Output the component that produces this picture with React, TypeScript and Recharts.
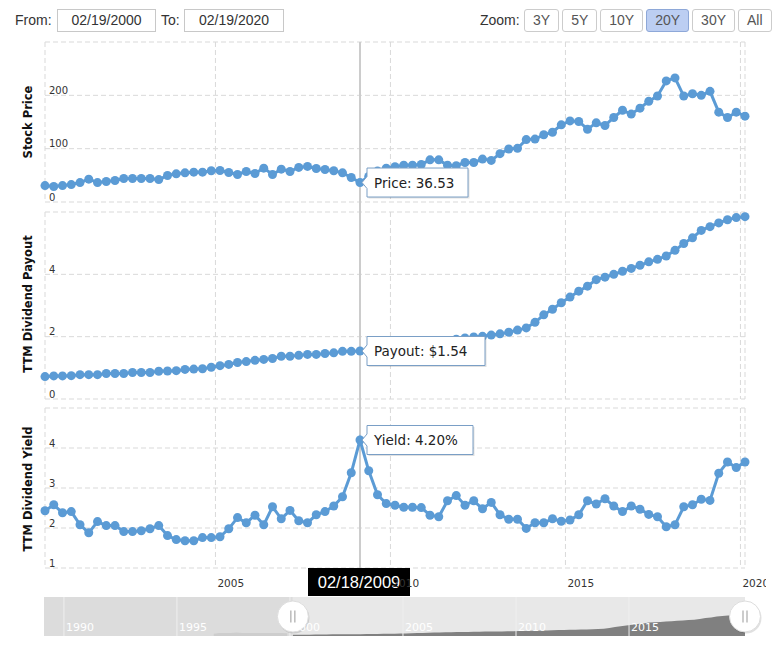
import React from "react";
import {
  LineChart,
  Line,
  XAxis,
  YAxis,
  CartesianGrid,
  ReferenceLine,
  ReferenceDot,
  ReferenceArea,
  AreaChart,
  Area,
} from "recharts";

// quarterly points, first one is Feb 2000
const firstQuarter = 2000.13;

const price = [
  30.8, 29, 30.8, 32.7, 36.4, 42.8, 36.4, 38.4, 40.3, 44, 44, 44, 44, 42, 49.7,
  52.8, 54.7, 56, 56, 58.5, 59, 55.3, 51.6, 57.2, 53.4, 63.5, 51.6, 61.6, 57.2,
  64.8, 66.7, 62.9, 61, 58.5, 54.7, 45.9, 36.53, 48, 58, 63.5, 66, 69, 69, 70.4,
  79, 79, 69, 68, 74, 74, 80.5, 78, 90.6, 99.4, 100.6, 117, 118, 126, 130.8,
  144.7, 152, 151, 136.5, 148.4, 143.4, 158.5, 172, 164.8, 176, 188.7, 198.7,
  227, 232.7, 198.7, 203, 200, 207.5, 168.5, 158.5, 168.5, 161,
];

const payout = [
  0.72, 0.74, 0.74, 0.75, 0.78, 0.78, 0.78, 0.82, 0.82, 0.82, 0.85, 0.85, 0.85,
  0.89, 0.9, 0.91, 0.95, 0.96, 0.97, 1.02, 1.07, 1.11, 1.17, 1.2, 1.24, 1.27,
  1.3, 1.37, 1.37, 1.4, 1.43, 1.43, 1.46, 1.48, 1.53, 1.53, 1.54, 1.58, 1.62,
  1.65, 1.68, 1.71, 1.74, 1.77, 1.8, 1.84, 1.88, 1.92, 1.96, 1.99, 2.01, 2.05,
  2.09, 2.14, 2.21, 2.28, 2.46, 2.7, 2.88, 3.09, 3.27, 3.46, 3.62, 3.83, 3.91,
  4.0, 4.1, 4.19, 4.29, 4.4, 4.48, 4.59, 4.77, 4.99, 5.17, 5.41, 5.53, 5.65,
  5.75, 5.82, 5.85,
];

const yieldPct = [
  2.43, 2.58, 2.38, 2.41, 2.08, 1.88, 2.16, 2.06, 2.06, 1.91, 1.91, 1.93, 1.98,
  2.06, 1.81, 1.71, 1.68, 1.68, 1.76, 1.76, 1.78, 1.98, 2.26, 2.13, 2.32, 2.08,
  2.53, 2.23, 2.44, 2.18, 2.13, 2.33, 2.41, 2.55, 2.78, 3.38, 4.2, 3.43, 2.83,
  2.61, 2.57, 2.52, 2.52, 2.51, 2.32, 2.28, 2.68, 2.81, 2.57, 2.68, 2.48, 2.64,
  2.33, 2.22, 2.22, 1.99, 2.13, 2.13, 2.23, 2.17, 2.2, 2.33, 2.68, 2.6, 2.73,
  2.55, 2.41, 2.55, 2.47, 2.34, 2.28, 2.03, 2.08, 2.53, 2.58, 2.72, 2.69, 3.37,
  3.65, 3.51, 3.65,
];

// navigator history before the selected range (quarterly, ends just before Feb 2000)
const navEarly = [1.0, 1.15, 1.2, 1.2, 1.3, 1.2, 1.2, 1.15, 1.15, 1.15, 1.15, 1.15, 1.15, 1.1];

const yearTicks = [2005, 2010, 2015, 2020];
const navYearTicks = [1990, 1995, 2000, 2005, 2010, 2015];
const priceTicks = [0, 100, 200, 300];
const payoutTicks = [0, 2, 4, 6];
const yieldTicks = [1, 2, 3, 4, 5];
const zoomButtons = ["3Y", "5Y", "10Y", "20Y", "30Y", "All"];
const activeZoom = "20Y";

const hoverIndex = 36;
const hoverDate = "02/18/2009";
const fromDate = "02/19/2000";
const toDate = "02/19/2020";

const rows = price.map((p, i) => ({
  t: firstQuarter + i / 4,
  price: p,
  payout: payout[i],
  yld: yieldPct[i],
}));

const navRows = [
  ...navEarly.map((v, k) => ({ t: firstQuarter - (navEarly.length - k) / 4, early: v })),
  ...payout.map((v, i) => ({ t: firstQuarter + i / 4, main: v })),
];

const xDomain = [firstQuarter, firstQuarter + 20];
const navDomain = [1989.12, firstQuarter + 20];
const hoverT = rows[hoverIndex].t;

const LINE = "#5b9bd5";
const GRID = "#d9d9d9";
const FONT = "'DejaVu Sans', Verdana, sans-serif";
const UI_FONT = "'Liberation Sans', Arial, sans-serif";

// eslint-disable-next-line @typescript-eslint/no-explicit-any
const yTick = (top: number) => (props: any) => {
  const { x, y, payload } = props;
  if (payload.value === top) return <g />;
  return (
    <text x={x + 4} y={y - 1.5} fontSize={10} fill="#333" fontFamily={FONT}>
      {payload.value}
    </text>
  );
};

// eslint-disable-next-line @typescript-eslint/no-explicit-any
const xTick = (props: any) => {
  const { x, y, payload } = props;
  return (
    <text x={x + 2} y={y + 19} fontSize={10.5} fill="#333" fontFamily={FONT}>
      {payload.value}
    </text>
  );
};

// eslint-disable-next-line @typescript-eslint/no-explicit-any
const navTick = (props: any) => {
  const { x, y, payload } = props;
  return (
    <text x={x + 2} y={y - 5} fontSize={11} fill="#fff" fontFamily={FONT}>
      {payload.value}
    </text>
  );
};

// callout box pointing left at the hovered point
const callout = (text: string, w: number) =>
  // eslint-disable-next-line @typescript-eslint/no-explicit-any
  (props: any) => {
    const { cx, cy } = props;
    const x0 = cx + 7;
    const h = 29;
    const top = cy - h / 2;
    const d = `M${x0},${top} H${x0 + w} V${top + h} H${x0} V${cy + 6} L${cx + 2},${cy} L${x0},${cy - 6} Z`;
    return (
      <g>
        <path d={d} transform="translate(1.5,1.5)" fill="rgba(0,0,0,0.12)" />
        <path d={d} fill="#fff" stroke="#7a9fc6" strokeWidth={1} />
        <text x={x0 + 7} y={cy + 5} fontSize={13.5} fill="#222" fontFamily={FONT}>
          {text}
        </text>
      </g>
    );
  };

// eslint-disable-next-line @typescript-eslint/no-explicit-any
const dateFlag = (props: any) => {
  const { cx, cy } = props;
  return (
    <g>
      <rect x={cx - 52} y={cy} width={102} height={28} fill="#000" />
      <text x={cx - 1} y={cy + 20} textAnchor="middle" fontSize={16.5} fill="#fff" fontFamily={UI_FONT}>
        {hoverDate}
      </text>
    </g>
  );
};

// eslint-disable-next-line @typescript-eslint/no-explicit-any
const navHandle = (props: any) => {
  const { cx, cy } = props;
  return (
    <g>
      <circle cx={cx + 1} cy={cy + 1.5} r={15.5} fill="rgba(0,0,0,0.12)" />
      <circle cx={cx} cy={cy} r={15.5} fill="#fff" stroke="#dddddd" />
      <line x1={cx - 2} x2={cx - 2} y1={cy - 6} y2={cy + 6} stroke="#999" />
      <line x1={cx + 2} x2={cx + 2} y1={cy - 6} y2={cy + 6} stroke="#999" />
    </g>
  );
};

const axisTitle = (text: string, cy: number) => (
  <div
    style={{
      position: "absolute",
      left: 28,
      top: cy,
      transform: "translate(-50%, -50%) rotate(-90deg)",
      whiteSpace: "nowrap",
      fontFamily: FONT,
      fontWeight: "bold",
      fontSize: 11.5,
      color: "#111",
    }}
  >
    {text}
  </div>
);

const boxStyle: React.CSSProperties = {
  position: "absolute",
  top: 9,
  height: 21,
  border: "1px solid #c8c8c8",
  fontSize: 14,
  lineHeight: "21px",
  textAlign: "center",
  color: "#333",
};

const dotStyle = { r: 4.5, fill: LINE, stroke: LINE, strokeWidth: 0 };

const yAxisCommon = {
  type: "number" as const,
  interval: 0 as const,
  width: 45,
  axisLine: false,
  tickLine: false,
  tickSize: 0,
  tickMargin: 0,
};

export default function App() {
  return (
    <div
      style={{
        position: "absolute",
        left: 0,
        top: 0,
        width: 778,
        height: 655,
        background: "#fff",
        overflow: "hidden",
        fontFamily: UI_FONT,
      }}
    >
      {/* range inputs */}
      <div style={{ position: "absolute", left: 15, top: 9, lineHeight: "23px", fontSize: 14, color: "#333" }}>From:</div>
      <div style={{ ...boxStyle, left: 57, width: 97 }}>{fromDate}</div>
      <div style={{ position: "absolute", left: 161, top: 9, lineHeight: "23px", fontSize: 14, color: "#333" }}>To:</div>
      <div style={{ ...boxStyle, left: 184, width: 98 }}>{toDate}</div>

      {/* zoom buttons */}
      <div style={{ position: "absolute", left: 480, top: 9, lineHeight: "23px", fontSize: 14, color: "#333" }}>Zoom:</div>
      <div style={{ position: "absolute", left: 524, top: 9, display: "flex", gap: 3 }}>
        {zoomButtons.map((b) => (
          <div
            key={b}
            style={{
              height: 21,
              lineHeight: "21px",
              padding: "0 8px",
              border: b === activeZoom ? "1px solid #8ea8d8" : "1px solid #cccccc",
              borderRadius: 3,
              background: b === activeZoom ? "#bccef2" : "#fff",
              fontSize: 14,
              color: "#555",
            }}
          >
            {b}
          </div>
        ))}
      </div>

      {axisTitle("Stock Price", 122)}
      {axisTitle("TTM Dividend Payout", 304)}
      {axisTitle("TTM Dividend Yield", 489)}

      {/* stock price */}
      <div style={{ position: "absolute", left: 0, top: 0 }}>
        <LineChart width={778} height={210} data={rows} margin={{ top: 42, right: 33, bottom: 8, left: 0 }}>
          <CartesianGrid stroke={GRID} strokeDasharray="5 3" />
          <XAxis type="number" dataKey="t" domain={xDomain} ticks={yearTicks} hide />
          <YAxis {...yAxisCommon} domain={[0, 300]} ticks={priceTicks} tick={yTick(300)} />
          <ReferenceLine
            segment={[{ x: hoverT, y: -19 }, { x: hoverT, y: 300 }]}
            ifOverflow="visible"
            stroke="#cccccc"
            strokeWidth={2}
          />
          <Line type="linear" dataKey="price" stroke={LINE} strokeWidth={3} dot={dotStyle} activeDot={false} isAnimationActive={false} />
          <ReferenceDot
            x={hoverT}
            y={rows[hoverIndex].price}
            ifOverflow="visible"
            shape={callout(`Price: ${rows[hoverIndex].price.toFixed(2)}`, 101)}
          />
        </LineChart>
      </div>

      {/* dividend payout */}
      <div style={{ position: "absolute", left: 0, top: 204 }}>
        <LineChart width={778} height={200} data={rows} margin={{ top: 8, right: 33, bottom: 5, left: 0 }}>
          <CartesianGrid stroke={GRID} strokeDasharray="5 3" />
          <XAxis type="number" dataKey="t" domain={xDomain} ticks={yearTicks} hide />
          <YAxis {...yAxisCommon} domain={[0, 6]} ticks={payoutTicks} tick={yTick(6)} />
          <ReferenceLine
            segment={[{ x: hoverT, y: -0.3 }, { x: hoverT, y: 6.3 }]}
            ifOverflow="visible"
            stroke="#cccccc"
            strokeWidth={2}
          />
          <Line type="linear" dataKey="payout" stroke={LINE} strokeWidth={3} dot={dotStyle} activeDot={false} isAnimationActive={false} />
          <ReferenceDot
            x={hoverT}
            y={rows[hoverIndex].payout}
            ifOverflow="visible"
            shape={callout(`Payout: $${rows[hoverIndex].payout.toFixed(2)}`, 118)}
          />
        </LineChart>
      </div>

      {/* dividend yield */}
      <div style={{ position: "absolute", left: 0, top: 400, width: 766, overflow: "hidden" }}>
        <LineChart width={766} height={200} data={rows} margin={{ top: 8, right: 21, bottom: 2, left: 0 }}>
          <CartesianGrid stroke={GRID} strokeDasharray="5 3" />
          <XAxis
            type="number"
            dataKey="t"
            domain={xDomain}
            ticks={yearTicks}
            interval={0}
            height={30}
            axisLine={false}
            tickLine={false}
            tickSize={0}
            tickMargin={0}
            tick={xTick}
          />
          <YAxis {...yAxisCommon} domain={[1, 5]} ticks={yieldTicks} tick={yTick(5)} />
          <ReferenceLine
            segment={[{ x: hoverT, y: 1 }, { x: hoverT, y: 5.2 }]}
            ifOverflow="visible"
            stroke="#cccccc"
            strokeWidth={2}
          />
          <Line type="linear" dataKey="yld" stroke={LINE} strokeWidth={3} dot={dotStyle} activeDot={false} isAnimationActive={false} />
          <ReferenceDot
            x={hoverT}
            y={rows[hoverIndex].yld}
            ifOverflow="visible"
            shape={callout(`Yield: ${rows[hoverIndex].yld.toFixed(2)}%`, 106)}
          />
          <ReferenceDot x={hoverT} y={1} ifOverflow="visible" shape={dateFlag} />
        </LineChart>
      </div>

      {/* navigator */}
      <div style={{ position: "absolute", left: 0, top: 590 }}>
        <AreaChart width={778} height={55} data={navRows} margin={{ top: 7, right: 33, bottom: 8, left: 44 }}>
          <XAxis
            type="number"
            dataKey="t"
            domain={navDomain}
            ticks={navYearTicks}
            interval={0}
            height={1}
            axisLine={false}
            tickLine={false}
            tickSize={0}
            tickMargin={0}
            tick={navTick}
          />
          <YAxis type="number" domain={[0.4, 10.4]} hide />
          <ReferenceArea x1={navDomain[0]} x2={firstQuarter} y1={0.4} y2={10.4} fill="#dcdcdc" fillOpacity={1} />
          <ReferenceArea x1={firstQuarter} x2={navDomain[1]} y1={0.4} y2={10.4} fill="#e8e8e8" fillOpacity={1} />
          <Area type="linear" dataKey="early" stroke="none" fill="#cdcdcd" fillOpacity={1} isAnimationActive={false} />
          <Area type="linear" dataKey="main" stroke="none" fill="#808080" fillOpacity={1} isAnimationActive={false} />
          {navYearTicks.map((yr) => (
            <ReferenceLine key={yr} x={yr} stroke="#efefef" strokeWidth={1} />
          ))}
          <ReferenceDot x={firstQuarter} y={5.4} ifOverflow="visible" shape={navHandle} />
          <ReferenceDot x={navDomain[1]} y={5.4} ifOverflow="visible" shape={navHandle} />
        </AreaChart>
      </div>
    </div>
  );
}
